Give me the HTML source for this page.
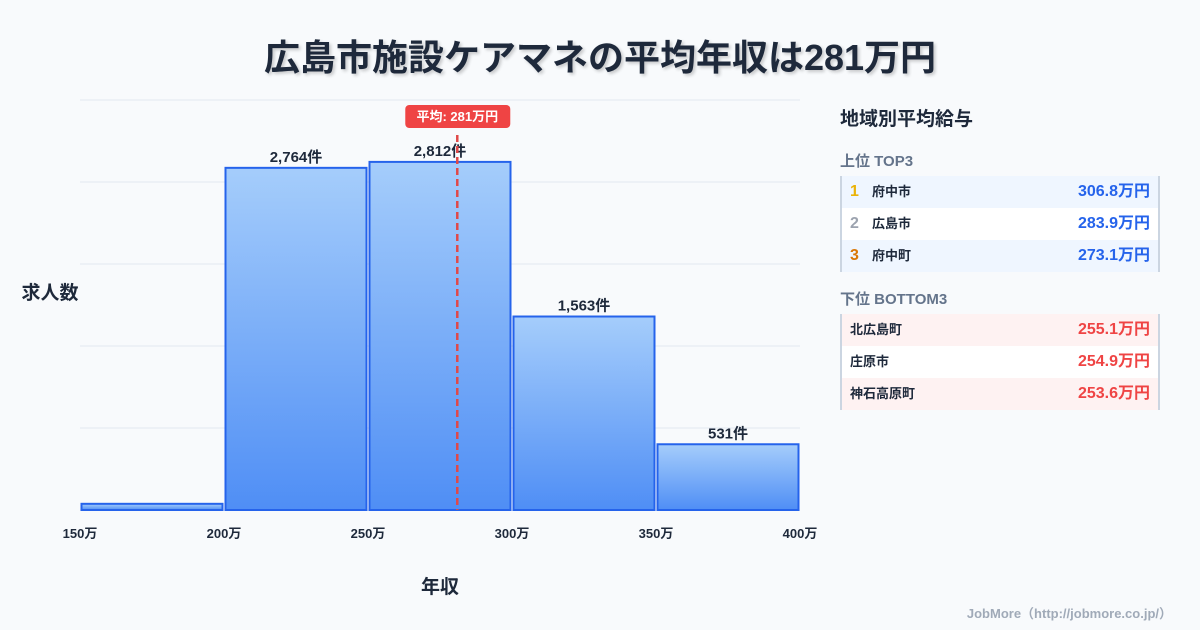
<!DOCTYPE html>
<html><head><meta charset="utf-8">
<style>
body{margin:0;width:1200px;height:630px;background:#f8fafc;font-family:"Liberation Sans","Noto Sans CJK JP",sans-serif;overflow:hidden;position:relative;color:#1e293b}
.title{position:absolute;top:29px;left:0;width:1200px;text-align:center;font-size:36px;font-weight:bold;color:#1e293b;text-shadow:2px 2px 3px rgba(0,0,0,0.2)}
.panel{position:absolute;left:840px;top:100px;width:320px}
.ph{font-size:19px;font-weight:bold;margin-top:4px;height:44px}
.sub{font-size:15px;font-weight:bold;color:#64748b;height:28px;line-height:28px}
.tbl{border-left:2px solid #cbd5e1;border-right:2px solid #cbd5e1;margin-bottom:14px}
.row{height:32px;display:flex;align-items:center;font-size:13px;font-weight:bold;padding:0 8px;line-height:32px}
.row .v{margin-left:auto;font-size:16px}
.rk{width:22px;font-size:16px;line-height:32px}
.top .row:nth-child(odd){background:#eff6ff}.top .row:nth-child(even){background:#fff}
.bot .row:nth-child(odd){background:#fef2f2}.bot .row:nth-child(even){background:#fff}
.top .v{color:#2563eb}.bot .v{color:#ef4444}
.foot{position:absolute;right:28px;bottom:8px;font-size:13px;font-weight:bold;color:#a0aab8}
</style></head><body>
<div class="title">広島市施設ケアマネの平均年収は281万円</div>
<svg id="chart" width="830" height="630" style="position:absolute;left:0;top:0"></svg>
<div class="panel">
<div class="ph">地域別平均給与</div>
<div class="sub">上位 TOP3</div>
<div class="tbl top">
<div class="row"><span class="rk" style="color:#eab308">1</span>府中市<span class="v">306.8万円</span></div>
<div class="row"><span class="rk" style="color:#9ca3af">2</span>広島市<span class="v">283.9万円</span></div>
<div class="row"><span class="rk" style="color:#d97706">3</span>府中町<span class="v">273.1万円</span></div>
</div>
<div class="sub">下位 BOTTOM3</div>
<div class="tbl bot">
<div class="row">北広島町<span class="v">255.1万円</span></div>
<div class="row">庄原市<span class="v">254.9万円</span></div>
<div class="row">神石高原町<span class="v">253.6万円</span></div>
</div>
</div>
<div class="foot">JobMore（http://jobmore.co.jp/）</div>
<script>
const binEdges=[150,200,250,300,350,400];
const counts=[50,2764,2812,1563,531];
const countLabels=["","2,764件","2,812件","1,563件","531件"];
const tickLabels=["150万","200万","250万","300万","350万","400万"];
const meanValue=281;
const meanLabel="平均: 281万円";
const yMax=3312;
const NS="http://www.w3.org/2000/svg";
const svg=document.getElementById('chart');
const X0=80,X1=800,Y0=510,Y1=100;
const x=v=>X0+(v-150)/(400-150)*(X1-X0);
const y=v=>Y0-v/yMax*(Y0-Y1);
function el(t,a,p){const e=document.createElementNS(NS,t);for(const k in a)e.setAttribute(k,a[k]);(p||svg).appendChild(e);return e;}
const defs=el('defs',{});
const g=el('linearGradient',{id:'bg',x1:0,y1:0,x2:0,y2:1},defs);
el('stop',{offset:'0','stop-color':'#a5cdfb'},g);el('stop',{offset:'1','stop-color':'#4f8ef5'},g);
for(let i=0;i<=5;i++){const gy=Y0-i*(Y0-Y1)/5;
const l=el('line',{x1:X0,x2:X1,y1:gy,y2:gy,stroke:'#e2e8f0','stroke-width':1});
}
counts.forEach((c,i)=>{
const bx=x(binEdges[i])+1.5,bw=x(binEdges[i+1])-x(binEdges[i])-3;
const r=el('rect',{x:bx,y:y(c),width:bw,height:Y0-y(c),fill:'url(#bg)',stroke:'#2563eb','stroke-width':2});

if(countLabels[i]){const t=el('text',{x:bx+bw/2,y:y(c)-6,'text-anchor':'middle','font-size':15,'font-weight':'bold',fill:'#1e293b'});
t.textContent=countLabels[i];}
});
tickLabels.forEach((s,i)=>{const t=el('text',{x:x(binEdges[i]),y:538,'text-anchor':'middle','font-size':13,'font-weight':'bold',fill:'#1e293b'});
t.textContent=s;});
const mx=x(meanValue);
const ml=el('line',{x1:mx,x2:mx,y1:135,y2:Y0,stroke:'#e04848','stroke-width':2.5,'stroke-dasharray':'7,4'});

const br=el('rect',{x:mx-52,y:105,width:105,height:23,rx:4,fill:'#ef4444'});

const bt=el('text',{x:mx,y:121,'text-anchor':'middle','font-size':13,'font-weight':'bold',fill:'#fff'});
bt.textContent=meanLabel;
const yt=el('text',{x:50,y:299,'text-anchor':'middle','font-size':19,'font-weight':'bold',fill:'#1e293b'});
yt.textContent='求人数';
const xt=el('text',{x:440,y:593,'text-anchor':'middle','font-size':19,'font-weight':'bold',fill:'#1e293b'});
xt.textContent='年収';
</script>
</body></html>
